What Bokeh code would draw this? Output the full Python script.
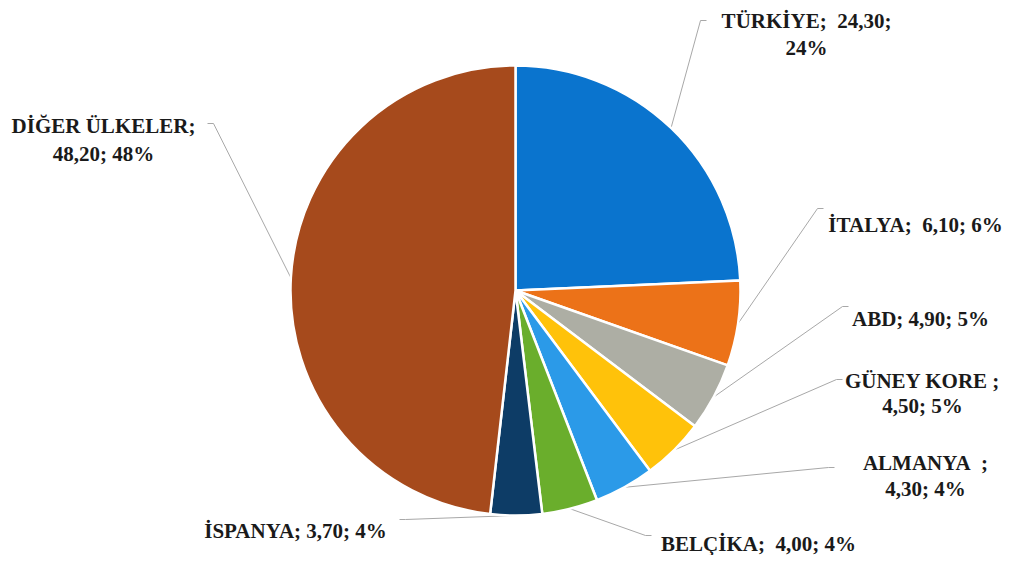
import math
import numpy as np
from bokeh.plotting import figure
from bokeh.models import Range1d, ColumnDataSource
from bokeh.core.properties import value
from bokeh.embed import file_html
from bokeh.resources import INLINE

# ---- data ----
categories = ["TÜRKİYE", "İTALYA", "ABD", "GÜNEY KORE", "ALMANYA", "BELÇİKA", "İSPANYA", "DİĞER ÜLKELER"]
values = [24.30, 6.10, 4.90, 4.50, 4.30, 4.00, 3.70, 48.20]
colors = ["#0A74CE", "#EC7218", "#ADAEA4", "#FFC20A", "#2B9AE8", "#6AAE2C", "#0D3C66", "#A64A1C"]

# ---- layout (pixel coords; y measured from top) ----
W, H = 1006, 555
CX, CY, R = 515, 290, 225
# label text line layouts: (split mode, centre x, first line y, line gap)
label_layout = [
    ("name_val|pct", 806, 20, 27),
    ("one", 915, 224, 0),
    ("one", 920, 318, 0),
    ("name|val_pct", 922, 380, 25),
    ("name|val_pct", 925, 462, 26),
    ("one", 758, 543, 0),
    ("one", 295, 530, 0),
    ("name|val_pct", 103, 125, 28),
]
# leader line end points and tick length/direction
leader_end = [(700, 20, 6), (817, 208, 6), (842, 306, 6), (836, 379, 6),
              (828, 467, 6), (645, 535, 6), (405, 519, -6), (213, 123, -6)]

def Y(iy):
    return H - iy

p = figure(width=W, height=H, output_backend="svg", toolbar_location=None,
           x_range=Range1d(0, W), y_range=Range1d(0, H), min_border=0)
p.axis.visible = False
p.grid.visible = False
p.outline_line_color = None
p.background_fill_color = "white"
p.border_fill_color = "white"

vals = np.array(values, dtype=float)
total = vals.sum()
frac = vals / total
cum = np.concatenate([[0.0], np.cumsum(frac)])
start = np.pi / 2 - cum[1:] * 2 * np.pi
end = np.pi / 2 - cum[:-1] * 2 * np.pi
mid = (cum[:-1] + cum[1:]) / 2 * 2 * np.pi  # clockwise from top

# leader lines (drawn first so wedges sit on top)
xs, ys = [], []
for m, (ex, ey, tk) in zip(mid, leader_end):
    sx = CX + R * np.sin(m)
    sy = CY - R * np.cos(m)
    xs.append([sx, ex, ex + tk])
    ys.append([Y(sy), Y(ey), Y(ey)])
p.multi_line(xs, ys, line_color="#A8A8A8", line_width=1)

src = ColumnDataSource(dict(start=start, end=end, color=colors, cat=categories, val=values))
p.wedge(x=CX, y=Y(CY), radius=R, start_angle="start", end_angle="end",
        fill_color="color", line_color="white", line_width=2.5, source=src)

# labels
NB = "\u00a0"
tx, ty, tt = [], [], []
for cat, v, f, (mode, lx, ly, gap) in zip(categories, values, frac, label_layout):
    vs = f"{v:.2f}".replace(".", ",")
    pc = f"{int(math.floor(f * 100 + 0.5))}%"
    if mode == "one":
        sep = ";" + NB + " " if cat in ("İTALYA", "BELÇİKA") else "; "
        lines = [f"{cat}{sep}{vs}; {pc}"]
    elif mode == "name_val|pct":
        lines = [f"{cat};{NB} {vs};", pc]
    else:
        if cat == "ALMANYA":
            first = f"{cat}{NB} ;"
        elif cat == "GÜNEY KORE":
            first = f"{cat} ;"
        else:
            first = f"{cat};"
        lines = [first, f"{vs}; {pc}"]
    for i, ln in enumerate(lines):
        tx.append(lx)
        ty.append(Y(ly + i * gap))
        tt.append(ln)
p.text(x=tx, y=ty, text=tt, text_align="center", text_baseline="middle",
       text_font=value("Liberation Serif"), text_font_style="bold",
       text_font_size="21px", text_color="#1A1A1A")

open("out.html", "w").write(file_html(p, INLINE))
